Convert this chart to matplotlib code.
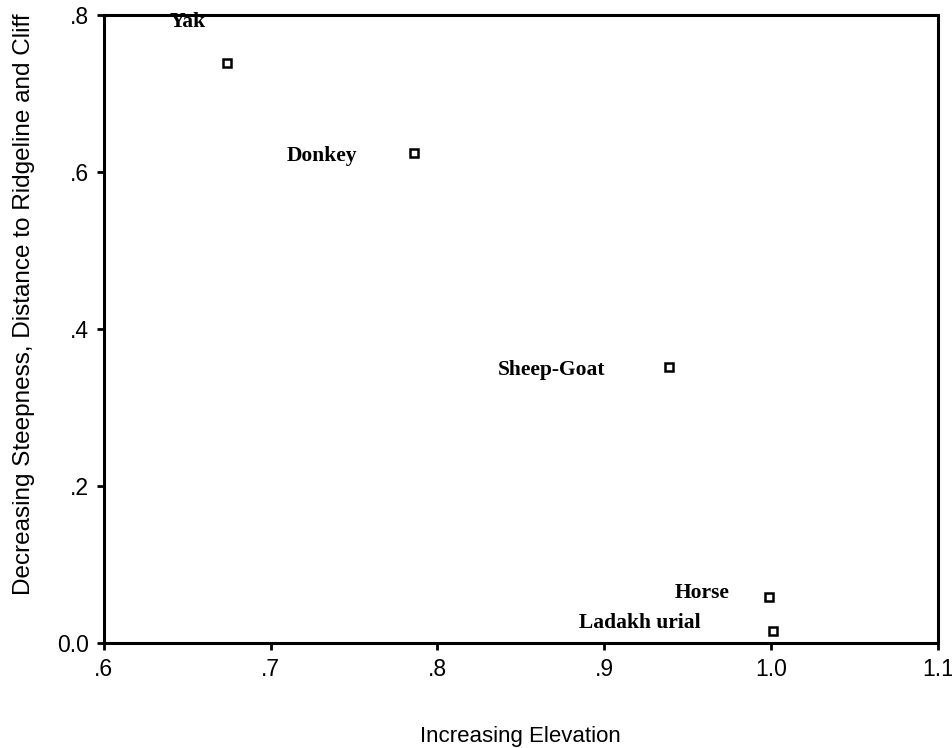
import matplotlib.pyplot as plt
from matplotlib.ticker import FixedLocator, FixedFormatter

# species positions on the two habitat axes
species = ['Yak', 'Donkey', 'Sheep-Goat', 'Horse', 'Ladakh urial']
elevation = [0.674, 0.786, 0.939, 0.999, 1.001]
steepness = [0.739, 0.624, 0.352, 0.059, 0.015]

x_ticks = [0.6, 0.7, 0.8, 0.9, 1.0, 1.1]
x_tick_labels = ['.6', '.7', '.8', '.9', '1.0', '1.1']
y_ticks = [0.0, 0.2, 0.4, 0.6, 0.8]
y_tick_labels = ['0.0', '.2', '.4', '.6', '.8']

# label offsets in pixels from each point
label_offsets = [(-22, 41), (-57, -3), (-64, -3), (-40, 4), (-72, 8)]

fig = plt.figure(figsize=(9.53, 7.48), dpi=100)
ax = fig.add_axes([0.109, 0.1404, 0.875, 0.8396])

ax.plot(elevation, steepness, linestyle='none', marker='s', markersize=6,
        markerfacecolor='white', markeredgecolor='black', markeredgewidth=1.8)

for name, x, y, off in zip(species, elevation, steepness, label_offsets):
    ax.annotate(name, (x, y), xytext=off, textcoords='offset pixels',
                ha='right', va='center', family='Liberation Serif',
                fontsize=15.5, fontweight='bold')

ax.set_xlim(0.6, 1.1)
ax.set_ylim(0.0, 0.8)
ax.xaxis.set_major_locator(FixedLocator(x_ticks))
ax.xaxis.set_major_formatter(FixedFormatter(x_tick_labels))
ax.yaxis.set_major_locator(FixedLocator(y_ticks))
ax.yaxis.set_major_formatter(FixedFormatter(y_tick_labels))

for side in ax.spines.values():
    side.set_linewidth(2.2)
ax.tick_params(direction='out', length=5, width=2, labelsize=16.5)
ax.tick_params(axis='x', pad=6)
ax.tick_params(axis='y', pad=6)
for lab in ax.get_xticklabels() + ax.get_yticklabels():
    lab.set_family('Liberation Sans')

ax.set_xlabel('Increasing Elevation', family='Liberation Sans',
              fontsize=16, labelpad=32)
ax.set_ylabel('Decreasing Steepness, Distance to Ridgeline and Cliff',
              family='Liberation Sans', fontsize=17.5, labelpad=16)
# ylabel sits a little above the axis middle
ax.yaxis.label.set_y(0.54)

fig.savefig('out.png', dpi=100)
